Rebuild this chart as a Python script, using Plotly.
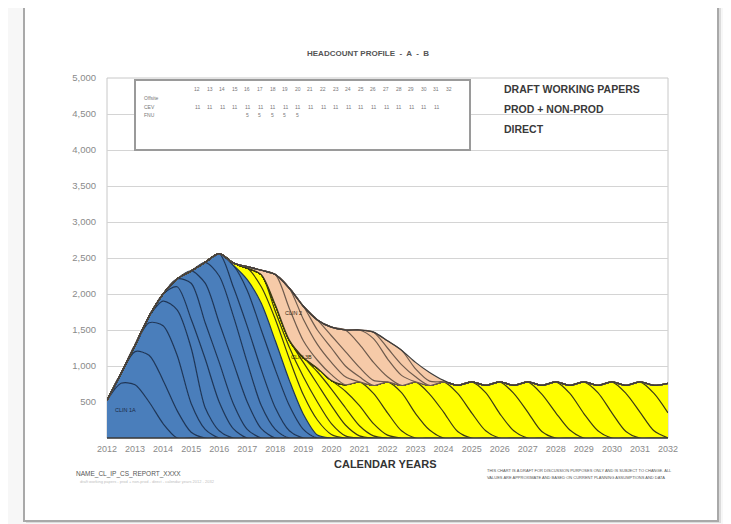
import plotly.graph_objects as go

# ---------------- data ----------------
years = [2012 + 0.5 * i for i in range(41)]          # half-year grid
tick_years = [2012, 2013, 2014, 2015, 2016, 2017, 2018, 2019, 2020, 2021, 2022,
              2023, 2024, 2025, 2026, 2027, 2028, 2029, 2030, 2031, 2032]
y_ticks = [500, 1000, 1500, 2000, 2500, 3000, 3500, 4000, 4500, 5000]

# overall top envelope
total = [520, 900, 1290, 1690, 2000, 2210, 2320, 2440, 2560, 2430,
         2380, 2330, 2270, 2080, 1830, 1640, 1540, 1500, 1500, 1470,
         1350, 1220, 1050, 910, 800, 730, 780, 730, 780, 730,
         780, 730, 780, 730, 780, 730, 780, 730, 780, 730, 760]
# top of the blue block
blue_top = [520, 900, 1290, 1690, 2000, 2210, 2320, 2440, 2560, 2400,
            2200, 1870, 1350, 800, 330, 40, 0, 0, 0, 0,
            0, 0, 0, 0, 0, 0, 0, 0, 0, 0,
            0, 0, 0, 0, 0, 0, 0, 0, 0, 0, 0]
# top of the yellow block
yellow_top = [520, 900, 1290, 1690, 2000, 2210, 2320, 2440, 2560, 2430,
              2360, 2270, 1850, 1360, 1120, 970, 800, 740, 780, 730,
              780, 730, 780, 730, 780, 730, 780, 730, 780, 730,
              780, 730, 780, 730, 780, 730, 780, 730, 780, 730, 760]

# inner cohort lines: (year the line leaves the upper edge, heights after that)
blue_lines = [
    (2012.5, [760, 740, 500, 200, 0]),
    (2013.0, [1200, 1150, 800, 380, 80, 0]),
    (2013.5, [1600, 1560, 1150, 480, 120, 0]),
    (2014.0, [1900, 1780, 1250, 420, 100, 0]),
    (2014.5, [2100, 1650, 1100, 500, 130, 0]),
    (2015.0, [2150, 1600, 1050, 480, 120, 0]),
    (2015.5, [2150, 1600, 1050, 500, 130, 0]),
    (2016.0, [2250, 1700, 1050, 450, 120, 0]),
    (2016.5, [2100, 1550, 950, 420, 100, 0]),
    (2017.0, [2050, 1500, 950, 450, 120, 0]),
]
yellow_lines = [
    (2017.5, [2100, 1650, 1100, 600, 250, 50, 0]),
    (2018.0, [1760, 1260, 850, 500, 200, 30, 0]),
    (2019.0, [1050, 750, 450, 180, 30, 0]),
    (2019.5, [920, 680, 420, 170, 30, 0]),
    (2020.5, [650, 450, 200, 40, 0]),
    (2021.5, [620, 350, 100, 0]),
    (2022.5, [630, 340, 110, 0]),
    (2023.5, [610, 360, 90, 0]),
    (2024.5, [620, 350, 100, 0]),
    (2025.5, [630, 340, 100, 0]),
    (2026.5, [620, 360, 90, 0]),
    (2027.5, [610, 350, 110, 0]),
    (2028.5, [620, 340, 100, 0]),
    (2029.5, [630, 350, 90, 0]),
    (2030.5, [620, 360, 100, 0]),
    (2031.5, [620, 350]),
]
peach_lines = [
    (2018.5, [1800, 1350, 1080, 880]),
    (2019.0, [1650, 1300, 1050, 850]),
    (2019.5, [1500, 1250, 1000, 850]),
    (2020.0, [1420, 1200, 980, 800]),
    (2021.0, [1300, 1050, 850]),
    (2021.5, [1380, 1100, 870]),
    (2022.0, [1250, 1020, 850]),
    (2023.0, [960, 790]),
]

box_header = ["12", "13", "14", "15", "16", "17", "18", "19", "20", "21", "22",
              "23", "24", "25", "26", "27", "28", "29", "30", "31", "32"]
box_row_cev = ["11", "11", "11", "11", "11", "11", "11", "11", "11", "11",
               "11", "11", "11", "11", "11", "11", "11", "11", "11", "11"]
box_row_fnu = ["5", "5", "5", "5", "5"]
box_row_labels = ["Offsite", "CEV", "FNU"]
notes_right = ["DRAFT WORKING PAPERS", "PROD + NON-PROD", "DIRECT"]

# ---------------- styling ----------------
BLUE = "#4a7ebb"
YELLOW = "#ffff00"
PEACH = "#f6caa8"
FONT = "Liberation Sans"

zeros = [0] * len(years)


def boundary(start, vals, upper, lower):
    i = round((start - years[0]) * 2)
    return upper[:i] + vals + lower[i + len(vals):]


layers = []  # (y values, fill colour, line colour)
for s, v in blue_lines:
    layers.append((boundary(s, v, blue_top, zeros), BLUE, "#1d3557"))
layers.append((blue_top, BLUE, "#1d3557"))
for s, v in yellow_lines:
    layers.append((boundary(s, v, yellow_top, zeros), YELLOW, "#3b3b12"))
layers.append((yellow_top, YELLOW, "#3b3b12"))
for s, v in peach_lines:
    layers.append((boundary(s, v, total, yellow_top), PEACH, "#6e5a4c"))
layers.append((total, PEACH, "#3c3c3c"))

fig = go.Figure()
for n, (yv, fc, lc) in enumerate(layers):
    fig.add_trace(go.Scatter(
        x=years, y=yv, mode="lines",
        line=dict(color=lc, width=1.2, shape="spline", smoothing=0.8),
        fill="tozeroy" if n == 0 else "tonexty", fillcolor=fc,
        hoverinfo="skip", showlegend=False))

# ---------------- layout ----------------
# the page body has an 8px margin: figure is drawn from (8, 8) of the window
OFF = 8
FW, FH = 731 - OFF, 524 - OFF
L, R, T, B = 107, 668, 78, 438      # plot area in window pixels
W, H = R - L, B - T


def px(x):
    return (x - L) / W


def py(y):
    return (B - y) / H


shapes = [
    # page shadow and page
    dict(type="rect", xref="paper", yref="paper", x0=px(26), x1=px(721), y0=py(523), y1=py(7),
         fillcolor="#dcdcdc", line=dict(width=0), layer="below"),
    dict(type="rect", xref="paper", yref="paper", x0=px(24), x1=px(718), y0=py(521), y1=py(5),
         fillcolor="white", line=dict(color="#a9a9a9", width=2), layer="below"),
    # plot frame
    dict(type="rect", xref="paper", yref="paper", x0=0, x1=1, y0=0, y1=1,
         line=dict(color="#c8c8c8", width=1), layer="below"),
    # baseline
    dict(type="line", xref="paper", yref="paper", x0=0, x1=1, y0=0, y1=0,
         line=dict(color="#3a3a3a", width=1.5)),
    # legend box
    dict(type="rect", xref="paper", yref="paper", x0=px(135), x1=px(470), y0=py(150), y1=py(80),
         fillcolor="white", line=dict(color="#9a9a9a", width=2)),
]

ann = []


def text(x, y, s, size, color="#444", anchor="left", bold=False):
    ann.append(dict(x=px(x), y=py(y), xref="paper", yref="paper", text=("<b>%s</b>" % s) if bold else s,
                    showarrow=False, xanchor=anchor, yanchor="middle",
                    font=dict(family=FONT, size=size, color=color)))


text(368, 53, "HEADCOUNT PROFILE  -  A  -  B", 8, "#555", "center", True)
for j, s in enumerate(box_header):
    text(197 + 12.6 * j, 89, s, 5, "#777", "center")
for j, s in enumerate(box_row_cev):
    text(197 + 12.6 * j, 107, s, 5, "#777", "center")
for j, s in enumerate(box_row_fnu):
    text(247 + 12.6 * j, 115, s, 5, "#777", "center")
for j, s in enumerate(box_row_labels):
    text(142, 98 + 8.5 * j, s, 5, "#777")
for j, s in enumerate(notes_right):
    text(502, 89 + 20 * j, s, 10.5, "#3a3a3a", bold=True)
text(385, 464, "CALENDAR YEARS", 11, "#333", "center", True)
text(113, 410, "CLIN 1A", 5.5, "#1d2b45")
text(283, 313, "CLIN 2", 5.5, "#3a2a1a")
text(289, 357, "CLIN 3B", 5.5, "#2a2a00")
text(74, 474, "NAME_CL_IP_CS_REPORT_XXXX", 6.5, "#555")
text(78, 481, "draft working papers - prod + non-prod - direct - calendar years 2012 - 2032", 4, "#c0c0c0")
text(485, 471, "THIS CHART IS A DRAFT FOR DISCUSSION PURPOSES ONLY AND IS SUBJECT TO CHANGE. ALL", 4, "#555")
text(485, 477, "VALUES ARE APPROXIMATE AND BASED ON CURRENT PLANNING ASSUMPTIONS AND DATA", 4, "#555")

fig.update_layout(
    width=FW, height=FH,
    margin=dict(l=L - OFF, r=FW - (R - OFF), t=T - OFF, b=FH - (B - OFF)),
    paper_bgcolor="#f7f7f7", plot_bgcolor="rgba(0,0,0,0)",
    font=dict(family=FONT),
    shapes=shapes, annotations=ann,
    xaxis=dict(range=[2012, 2032], tickvals=tick_years, ticktext=[str(t) for t in tick_years],
               tickfont=dict(size=9, color="#8a8a8a"), showgrid=False, zeroline=False,
               showline=False, ticks="", ticklabelstandoff=4),
    yaxis=dict(range=[0, 5000], tickvals=y_ticks, ticktext=["{:,}".format(t) for t in y_ticks],
               tickfont=dict(size=9.5, color="#8a8a8a"), showgrid=True, gridcolor="#d4d4d4",
               gridwidth=1, zeroline=False, showline=False, ticks="", ticklabelstandoff=10),
)

fig.write_html("out.html")
